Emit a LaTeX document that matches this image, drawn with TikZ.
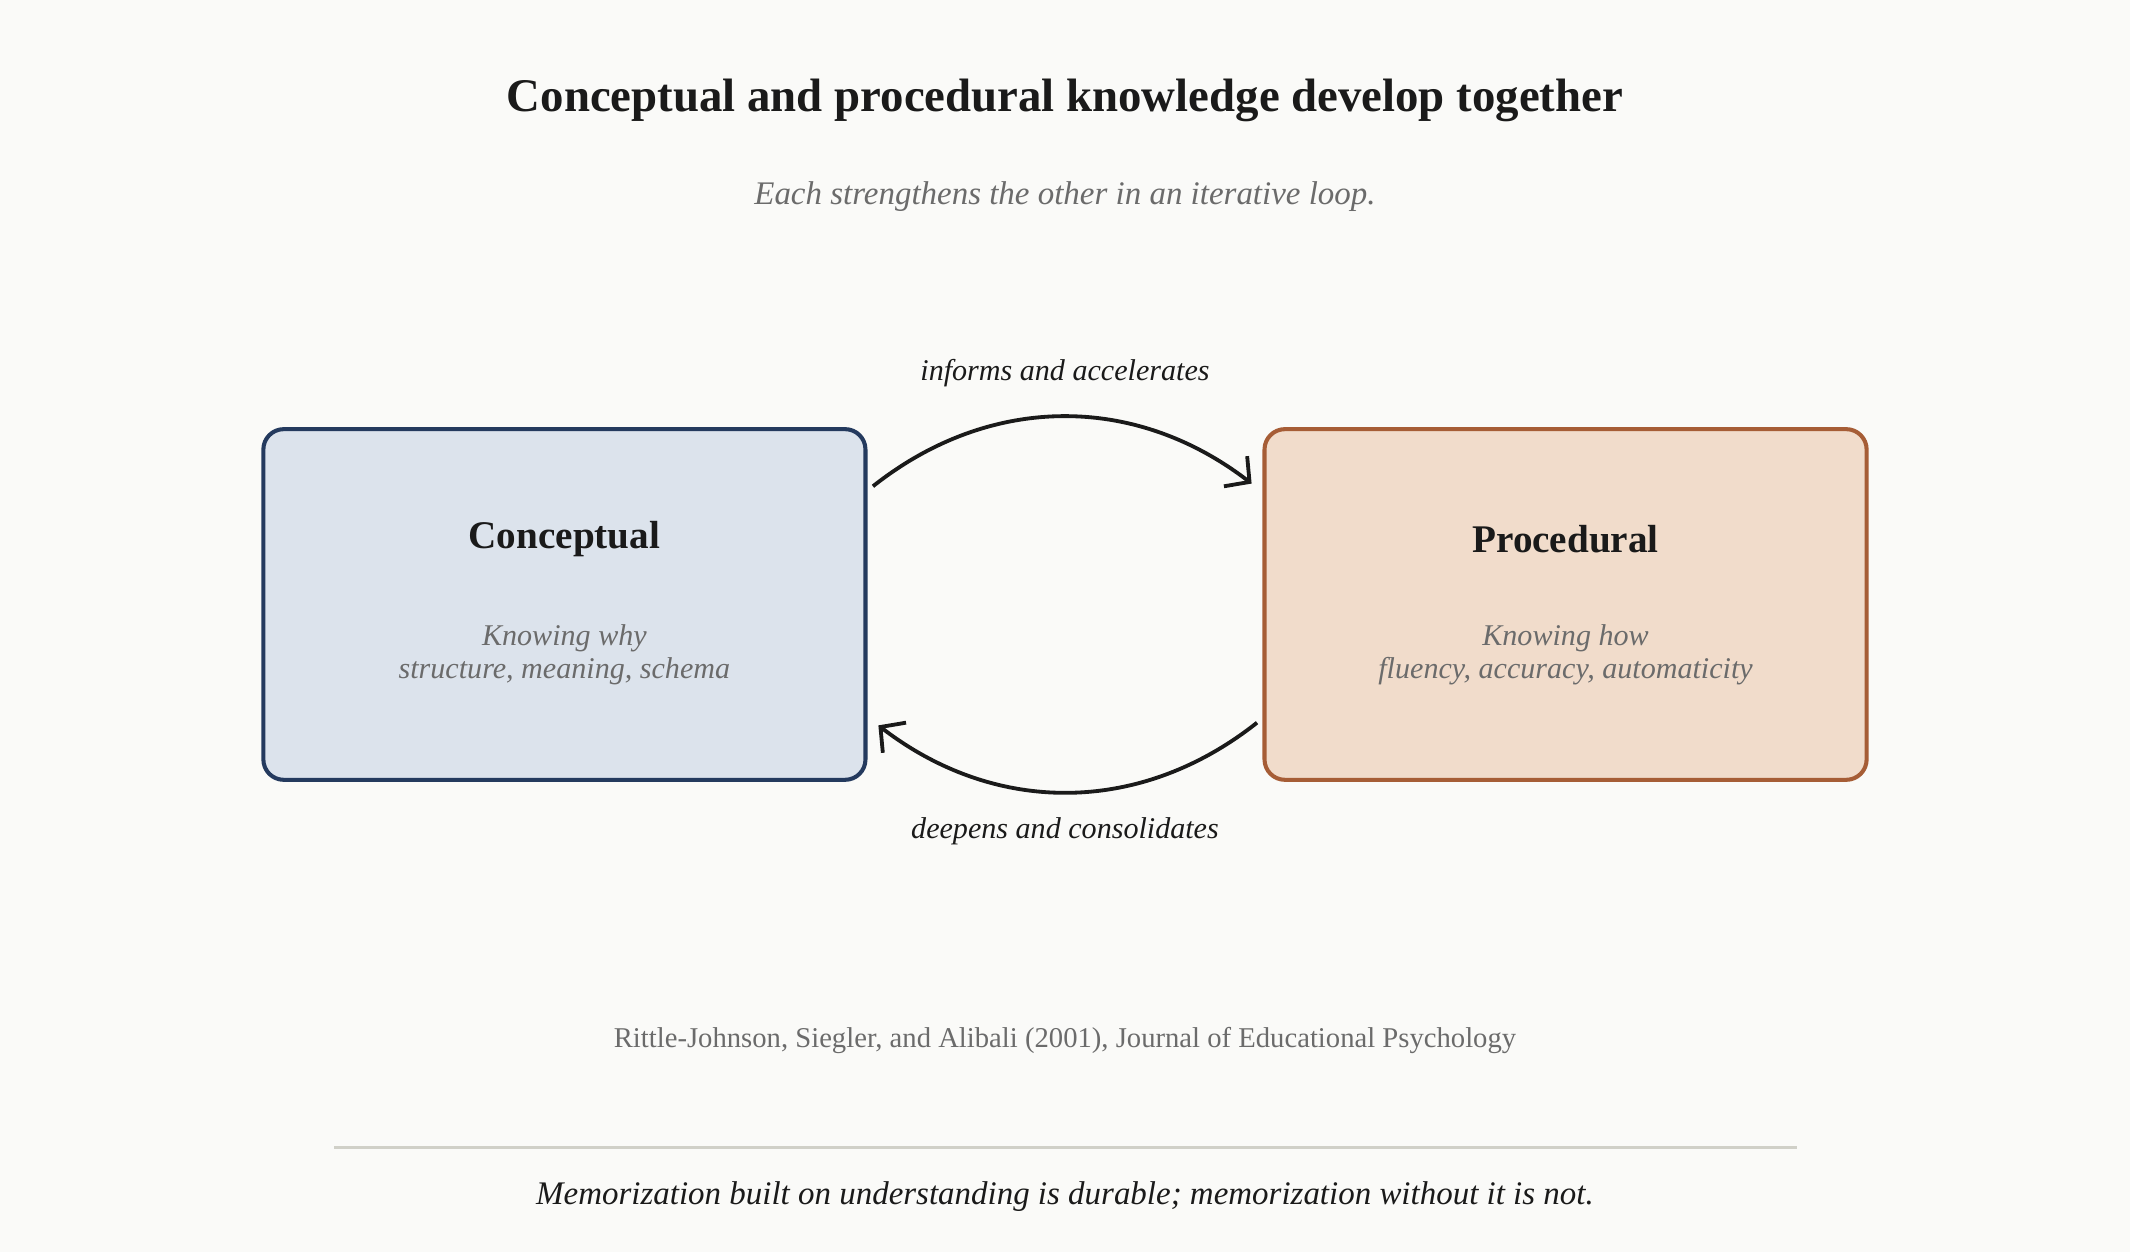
\documentclass[tikz,border=0pt]{standalone}
\usepackage{fontspec}
\setmainfont{Liberation Serif}
\usetikzlibrary{arrows.meta}
\usetikzlibrary{calc}
\definecolor{bgcol}{HTML}{FAFAF8}
\definecolor{conceptfill}{HTML}{DCE3EC}
\definecolor{conceptline}{HTML}{243A5E}
\definecolor{procfill}{HTML}{F1DCCB}
\definecolor{procline}{HTML}{A65D36}
\definecolor{greytext}{HTML}{6B6B6B}
\definecolor{rulecol}{HTML}{D0D0C8}
\definecolor{inkcol}{HTML}{1A1A1A}
\tikzset{
  knowbox/.style={draw, line width=0.85pt, rounded corners=0.15cm, minimum width=4.43cm, minimum height=2.58cm},
  loop arrow/.style={draw=inkcol, line width=0.8pt, -{Straight Barb[length=1.3mm,width=2.8mm,line width=0.8pt]}},
  looplabel/.style={font=\fontsize{6.3}{7.5}\selectfont\itshape, text=inkcol},
  subtext/.style={font=\fontsize{6.3}{7}\selectfont\itshape, text=greytext, align=center},
  boxtitle/.style={font=\fontsize{8.2}{10}\selectfont\bfseries, text=inkcol}
}
\begin{document}
\begin{tikzpicture}[x=0.01cm,y=-0.01cm]
            \fill[bgcol] (0,0) rectangle (1568,922);
            \useasboundingbox (0,0) rectangle (1568,922);
            \node[font=\fontsize{9.8}{12}\selectfont\bfseries, text=inkcol] (title) at (784,74) {Conceptual and procedural knowledge develop together};
            \node[font=\fontsize{6.9}{8}\selectfont\itshape, text=greytext] (subtitle) at (784,145) {Each strengthens the other in an iterative loop.};
            \node[knowbox, draw=conceptline, fill=conceptfill] (concept) at (415.5,445) {};
            \node[knowbox, draw=procline, fill=procfill] (proc) at (1152.5,445) {};
            \node[boxtitle] (concepttitle) at (415.5,397) {Conceptual};
            \node[subtext] (conceptsub) at (415.5,482) {Knowing why\\structure, meaning, schema};
            \node[boxtitle] (proctitle) at (1152.5,397) {Procedural};
            \node[subtext] (procsub) at (1152.5,482) {Knowing how\\fluency, accuracy, automaticity};
            \coordinate (topstart) at ($(concept.east)+(4,-87)$);
            \coordinate (topend) at ($(proc.west)+(-8,-89)$);
            \coordinate (botstart) at ($(proc.west)+(-4,87)$);
            \coordinate (botend) at ($(concept.east)+(8,89)$);
            \draw[loop arrow] (topstart) to[bend left=38] (topend);
            \draw[loop arrow] (botstart) to[bend left=38] (botend);
            \node[looplabel] (toplabel) at (784,275) {informs and accelerates};
            \node[looplabel] (botlabel) at (784,612) {deepens and consolidates};
            \node[font=\fontsize{6}{7}\selectfont, text=greytext] (cite) at (784,766) {Rittle-Johnson, Siegler, and Alibali (2001), Journal of Educational Psychology};
            \coordinate (ruleleft) at (246,845);
            \coordinate (ruleright) at (1323,845);
            \draw[rulecol, line width=0.6pt] (ruleleft) -- (ruleright);
            \node[font=\fontsize{6.9}{8}\selectfont\itshape, text=inkcol] (quote) at (784,881) {Memorization built on understanding is durable; memorization without it is not.};
        \end{tikzpicture}
\end{document}
